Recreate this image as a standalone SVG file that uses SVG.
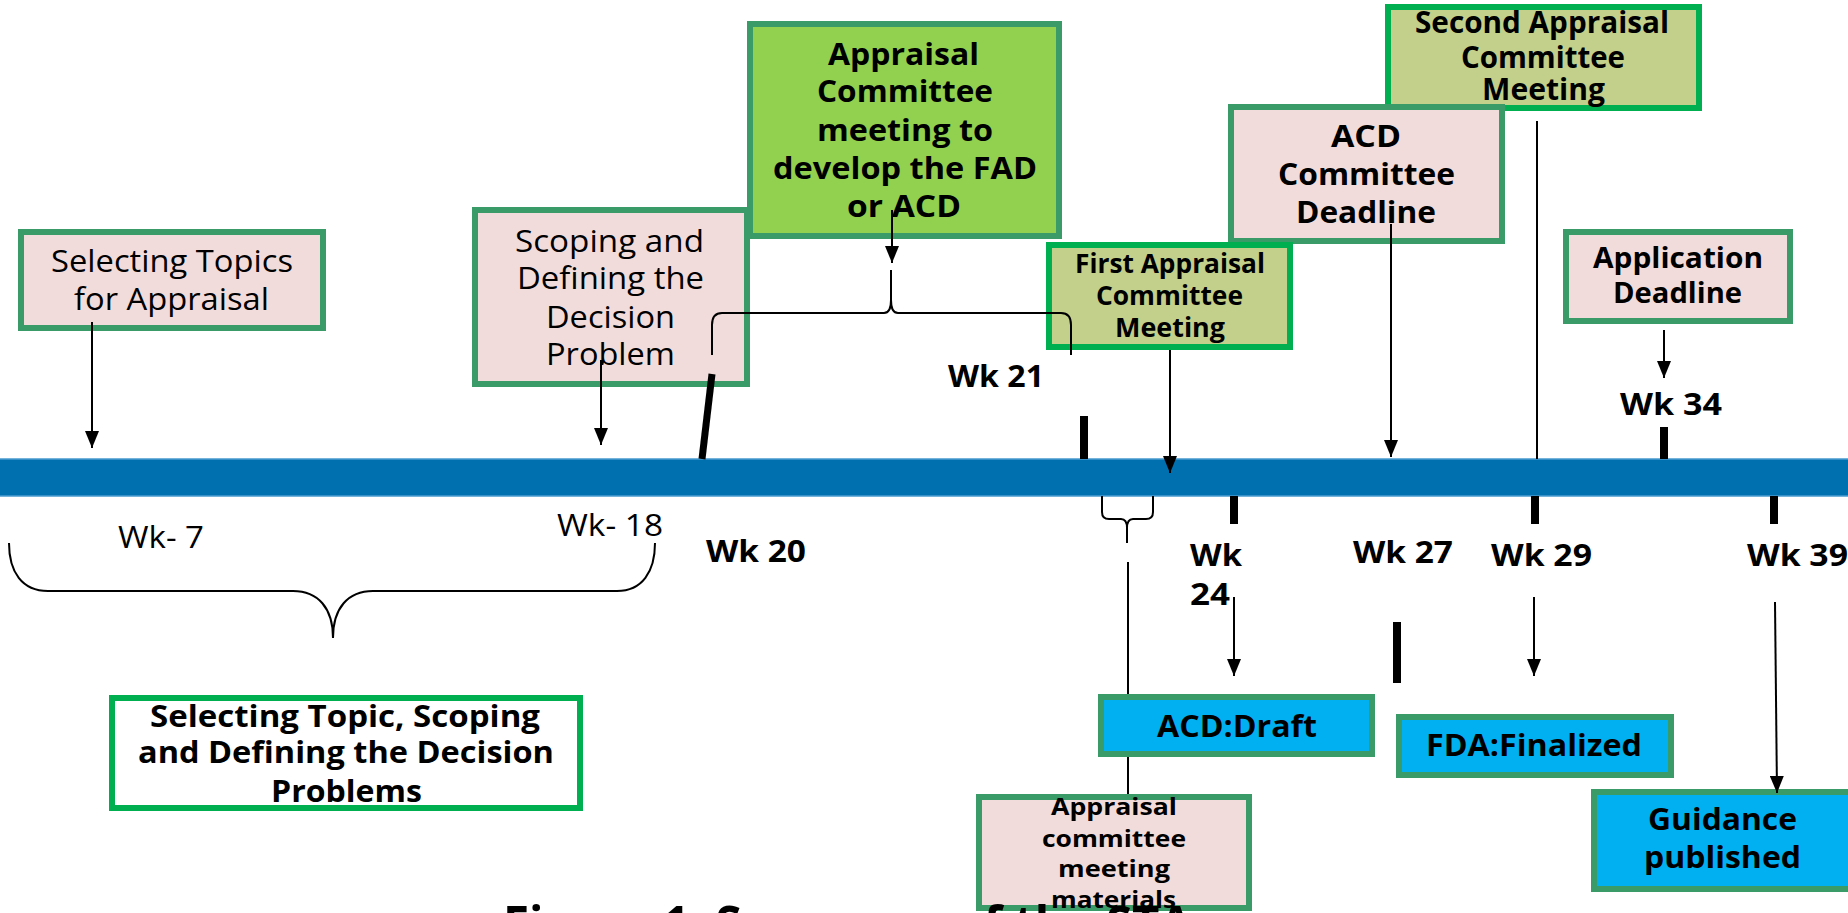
<svg xmlns="http://www.w3.org/2000/svg" width="1848" height="913" viewBox="0 0 1848 913">
<style>
.pink{fill:#F2DCDB;stroke:#3A9B68;stroke-width:6}
.green{fill:#92D050;stroke:#3A9B68;stroke-width:6}
.olive{fill:#C2D08C;stroke:#00B050;stroke-width:6}
.cyan{fill:#00B0F0;stroke:#3A9B68;stroke-width:6}
.white{fill:#FFFFFF;stroke:#00B050;stroke-width:6}
text{font-family:"Open Sans","Noto Sans",sans-serif;fill:#000}
.r{font-size:31px;font-weight:normal}
.b{font-size:31px;font-weight:bold}
.b26{font-size:26px;font-weight:bold}
.b28{font-size:28px;font-weight:bold}
.b24{font-size:24px;font-weight:bold}
.thin{stroke:#000;stroke-width:2;fill:none}
.arrow{stroke:#000;stroke-width:2;fill:none;marker-end:url(#ah)}
.thick{stroke:#000;stroke-width:8}
.brace{stroke:#000;stroke-width:2;fill:none}
</style>
<defs>
<marker id="ah" viewBox="0 0 17 14" refX="17" refY="7" markerWidth="17" markerHeight="14" markerUnits="userSpaceOnUse" orient="auto">
<path d="M0,0 L17,7 L0,14 z" fill="#000"/>
</marker>
</defs>
<rect width="1848" height="913" fill="#FFFFFF"/>

<g id="timeline">
<rect x="-2" y="459" width="1852" height="37" fill="#0070AE" stroke="#4A9BD0" stroke-width="1.5"/>
</g>

<g id="connectors-behind">
<line class="thin" x1="1128" y1="562" x2="1128" y2="797"/>
</g>

<g id="node-selecting-topics">
<rect class="pink" x="21" y="232" width="302" height="96"/>
<text class="r" x="51" y="272" textLength="242" lengthAdjust="spacingAndGlyphs">Selecting Topics</text>
<text class="r" x="74" y="310" textLength="195" lengthAdjust="spacingAndGlyphs">for Appraisal</text>
</g>

<g id="node-scoping">
<rect class="pink" x="475" y="210" width="272" height="174"/>
<text class="r" x="515" y="252" textLength="189" lengthAdjust="spacingAndGlyphs">Scoping and</text>
<text class="r" x="517" y="289" textLength="187" lengthAdjust="spacingAndGlyphs">Defining the</text>
<text class="r" x="546" y="328" textLength="129" lengthAdjust="spacingAndGlyphs">Decision</text>
<text class="r" x="546" y="365" textLength="129" lengthAdjust="spacingAndGlyphs">Problem</text>
</g>

<g id="node-appraisal-fad">
<rect class="green" x="750" y="24" width="309" height="212"/>
<text class="b" x="828" y="65" textLength="151" lengthAdjust="spacingAndGlyphs">Appraisal</text>
<text class="b" x="817" y="102" textLength="176" lengthAdjust="spacingAndGlyphs">Committee</text>
<text class="b" x="817" y="141" textLength="176" lengthAdjust="spacingAndGlyphs">meeting to</text>
<text class="b" x="773" y="179" textLength="264" lengthAdjust="spacingAndGlyphs">develop the FAD</text>
<text class="b" x="847" y="217" textLength="114" lengthAdjust="spacingAndGlyphs">or ACD</text>
</g>

<g id="node-second-appraisal">
<rect class="olive" x="1388" y="7" width="311" height="101"/>
<text class="b" x="1415" y="33" textLength="254" lengthAdjust="spacingAndGlyphs">Second Appraisal</text>
<text class="b" x="1461" y="68" textLength="164" lengthAdjust="spacingAndGlyphs">Committee</text>
<text class="b" x="1482" y="100" textLength="123" lengthAdjust="spacingAndGlyphs">Meeting</text>
</g>

<g id="node-acd-deadline">
<rect class="pink" x="1231" y="107" width="271" height="134"/>
<text class="b" x="1331" y="147" textLength="70" lengthAdjust="spacingAndGlyphs">ACD</text>
<text class="b" x="1278" y="185" textLength="177" lengthAdjust="spacingAndGlyphs">Committee</text>
<text class="b" x="1296" y="223" textLength="140" lengthAdjust="spacingAndGlyphs">Deadline</text>
</g>

<g id="node-first-appraisal">
<rect class="olive" x="1049" y="245" width="241" height="102"/>
<text class="b26" x="1075" y="273" textLength="190" lengthAdjust="spacingAndGlyphs">First Appraisal</text>
<text class="b26" x="1096" y="305" textLength="147" lengthAdjust="spacingAndGlyphs">Committee</text>
<text class="b26" x="1115" y="337" textLength="110" lengthAdjust="spacingAndGlyphs">Meeting</text>
</g>

<g id="node-application-deadline">
<rect class="pink" x="1566" y="232" width="224" height="89"/>
<text class="b28" x="1593" y="268" textLength="170" lengthAdjust="spacingAndGlyphs">Application</text>
<text class="b28" x="1613" y="303" textLength="129" lengthAdjust="spacingAndGlyphs">Deadline</text>
</g>

<g id="node-selecting-scoping-summary">
<rect class="white" x="112" y="698" width="468" height="110"/>
<text class="b" x="150" y="727" textLength="390" lengthAdjust="spacingAndGlyphs">Selecting Topic, Scoping</text>
<text class="b" x="138" y="763" textLength="416" lengthAdjust="spacingAndGlyphs">and Defining the Decision</text>
<text class="b" x="271" y="802" textLength="151" lengthAdjust="spacingAndGlyphs">Problems</text>
</g>

<g id="node-acd-draft">
<rect class="cyan" x="1101" y="697" width="271" height="57"/>
<text class="b" x="1157" y="737" textLength="160" lengthAdjust="spacingAndGlyphs">ACD:Draft</text>
</g>

<g id="node-fda-finalized">
<rect class="cyan" x="1399" y="717" width="272" height="58"/>
<text class="b" x="1426" y="756" textLength="216" lengthAdjust="spacingAndGlyphs">FDA:Finalized</text>
</g>

<g id="node-guidance">
<rect class="cyan" x="1594" y="792" width="262" height="97"/>
<text class="b" x="1648" y="830" textLength="149" lengthAdjust="spacingAndGlyphs">Guidance</text>
<text class="b" x="1644" y="868" textLength="157" lengthAdjust="spacingAndGlyphs">published</text>
</g>

<g id="node-materials">
<rect class="pink" x="979" y="797" width="270" height="111"/>
<text class="b24" x="1051" y="815" textLength="126" lengthAdjust="spacingAndGlyphs">Appraisal</text>
<text class="b24" x="1042" y="847" textLength="144" lengthAdjust="spacingAndGlyphs">committee</text>
<text class="b24" x="1058" y="877" textLength="112" lengthAdjust="spacingAndGlyphs">meeting</text>
<text class="b24" x="1051" y="908" textLength="125" lengthAdjust="spacingAndGlyphs">materials</text>
</g>

<g id="week-labels">
<text class="r" x="118" y="548" textLength="86" lengthAdjust="spacingAndGlyphs">Wk- 7</text>
<text class="r" x="557" y="536" textLength="106" lengthAdjust="spacingAndGlyphs">Wk- 18</text>
<text class="b" x="706" y="562" textLength="100" lengthAdjust="spacingAndGlyphs">Wk 20</text>
<text class="b" x="948" y="387" textLength="96" lengthAdjust="spacingAndGlyphs">Wk 21</text>
<text class="b" x="1190" y="566" textLength="52" lengthAdjust="spacingAndGlyphs">Wk</text>
<text class="b" x="1190" y="605" textLength="40" lengthAdjust="spacingAndGlyphs">24</text>
<text class="b" x="1353" y="563" textLength="100" lengthAdjust="spacingAndGlyphs">Wk 27</text>
<text class="b" x="1491" y="566" textLength="101" lengthAdjust="spacingAndGlyphs">Wk 29</text>
<text class="b" x="1620" y="415" textLength="102" lengthAdjust="spacingAndGlyphs">Wk 34</text>
<text class="b" x="1747" y="566" textLength="101" lengthAdjust="spacingAndGlyphs">Wk 39</text>
</g>

<g id="connectors">
<line class="arrow" x1="92" y1="322" x2="92" y2="448"/>
<line class="arrow" x1="601" y1="360" x2="601" y2="445"/>
<line class="arrow" x1="892" y1="210" x2="892" y2="263"/>
<line class="arrow" x1="1170" y1="350" x2="1170" y2="473"/>
<line class="arrow" x1="1391" y1="224" x2="1391" y2="457"/>
<line class="arrow" x1="1664" y1="330" x2="1664" y2="378"/>
<line class="arrow" x1="1234" y1="597" x2="1234" y2="676"/>
<line class="arrow" x1="1534" y1="597" x2="1534" y2="676"/>
<line class="arrow" x1="1775" y1="602" x2="1777" y2="793"/>
<line class="thin" x1="1537" y1="121" x2="1537" y2="459"/>
<line stroke="#000" stroke-width="7" x1="712" y1="374" x2="702" y2="459"/>
<line class="thick" x1="1084" y1="416" x2="1084" y2="459"/>
<line class="thick" x1="1234" y1="496" x2="1234" y2="524"/>
<line class="thick" x1="1535" y1="496" x2="1535" y2="524"/>
<line class="thick" x1="1664" y1="427" x2="1664" y2="459"/>
<line class="thick" x1="1774" y1="496" x2="1774" y2="524"/>
<line class="thick" x1="1397" y1="622" x2="1397" y2="683"/>
<path class="brace" d="M712,355 L712,325 Q712,313 722,313 L884,313 Q891,313 891,300 L891,270 M891,300 Q891,313 898,313 L1061,313 Q1071,313 1071,325 L1071,355"/>
<path class="brace" d="M9,543 C9,572 22,591 48,591 L293,591 C318,591 333,608 333,638 C333,608 348,591 373,591 L617,591 C642,591 655,572 655,543"/>
<path class="brace" stroke-width="3" d="M1102,496 L1102,512 Q1102,519 1109,519 L1121,519 Q1127,519 1127,528 L1127,543 M1127,528 Q1127,519 1133,519 L1146,519 Q1153,519 1153,512 L1153,496"/>
</g>

<g id="title">
<text x="503" y="942" font-size="50" font-weight="bold" textLength="689" lengthAdjust="spacingAndGlyphs">Figure 1: Summary of the STA</text>
</g>
</svg>
